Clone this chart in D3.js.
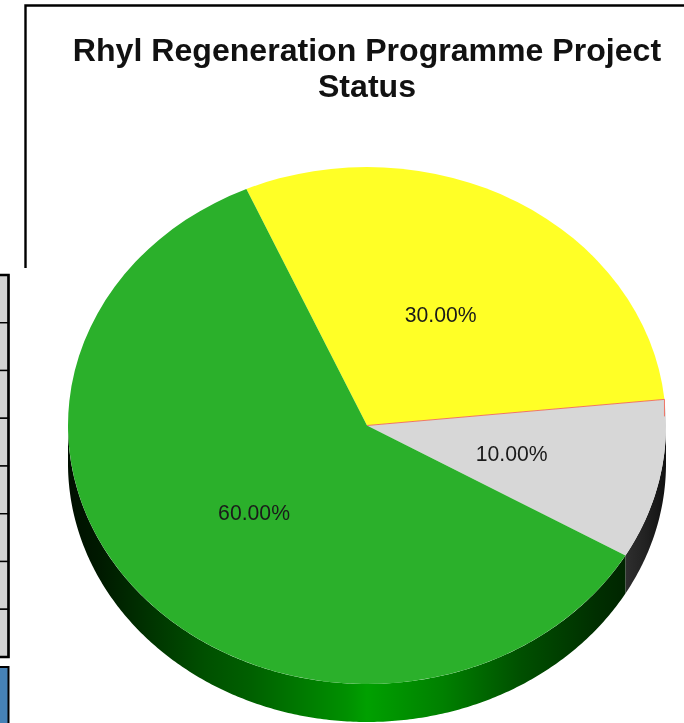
<!DOCTYPE html>
<html>
<head>
<meta charset="utf-8">
<style>
  html, body { margin: 0; padding: 0; background: #fff; overflow: hidden; }
  svg { display: block; filter: blur(0.45px); }
</style>
</head>
<body>
<svg></svg>
<script src="https://cdn.jsdelivr.net/npm/d3@7"></script>
<script>
const width = 684;
const height = 723;

// no legend in the picture, slices are only known by their colour
const sliceNames = ['yellow', 'red', 'grey', 'green'];
const sliceValues = [30, 0, 10, 60];
const titleLines = ['Rhyl Regeneration Programme Project', 'Status'];

const sliceColors = { yellow: '#ffff26', red: '#f06a5a', grey: '#d7d7d7', green: '#2bb02b' };

const cx = 367;
const cy = 425.5;
const rx = 299;
const ry = 258.5;
const depth = 38;

const svg = d3.select('svg')
  .attr('width', width)
  .attr('height', height);

const defs = svg.append('defs');

function sideGradient(id, stops) {
  const grad = defs.append('linearGradient')
    .attr('id', id)
    .attr('gradientUnits', 'userSpaceOnUse')
    .attr('x1', 0).attr('x2', width)
    .attr('y1', 0).attr('y2', 0);
  grad.selectAll('stop')
    .data(stops)
    .enter()
    .append('stop')
    .attr('offset', d => d[0] / width)
    .attr('stop-color', d => d[1]);
}

sideGradient('greenSide', [
  [68, '#000f00'], [98, '#001900'], [205, '#005000'], [251, '#006000'],
  [347, '#009000'], [367, '#00a000'], [443, '#008000'], [520, '#005000'],
  [596, '#002f00'], [626, '#002500']
]);
sideGradient('greySide', [[626, '#2e2e2e'], [645, '#222222'], [666, '#111111']]);

// cut-off table at the left edge of the page
const tableRows = d3.range(8);
const rowY = d3.scaleLinear().domain([0, 8]).range([275, 657]);

svg.append('g')
  .selectAll('rect')
  .data(tableRows)
  .enter()
  .append('rect')
  .attr('x', -4)
  .attr('y', d => rowY(d))
  .attr('width', 12.5)
  .attr('height', d => rowY(d + 1) - rowY(d))
  .attr('fill', '#d3d3d3')
  .attr('stroke', '#000')
  .attr('stroke-width', 1.4);

svg.append('path')
  .attr('d', 'M0,275H8.5V657H0')
  .attr('fill', 'none')
  .attr('stroke', '#000')
  .attr('stroke-width', 2.6);

svg.append('rect')
  .attr('x', -4)
  .attr('y', 667)
  .attr('width', 12.5)
  .attr('height', 70)
  .attr('fill', '#4682b6')
  .attr('stroke', '#000')
  .attr('stroke-width', 2);

// chart frame, only top and left show
svg.append('path')
  .attr('d', 'M25.5,268V5.5H684')
  .attr('fill', 'none')
  .attr('stroke', '#000')
  .attr('stroke-width', 2.4);

svg.selectAll('.title')
  .data(titleLines)
  .enter()
  .append('text')
  .attr('class', 'title')
  .attr('x', cx)
  .attr('y', (d, i) => 61 + i * 36)
  .attr('text-anchor', 'middle')
  .attr('font-family', '"Liberation Sans", Arial, sans-serif')
  .attr('font-weight', 'bold')
  .attr('font-size', 32.1)
  .attr('fill', '#111')
  .text(d => d);

const startAngle = -23.8 * Math.PI / 180;

const pie = d3.pie()
  .sort(null)
  .value(d => d)
  .startAngle(startAngle)
  .endAngle(startAngle + 2 * Math.PI);

const slices = pie(sliceValues);

// angle runs clockwise from twelve o'clock, same as d3.arc
const edgeX = a => cx + rx * Math.sin(a);
const edgeY = a => cy - ry * Math.cos(a);

// rim of one slice: only the part in the lower half of the ellipse shows
function rimPath(d) {
  const a0 = Math.max(d.startAngle, Math.PI / 2);
  const a1 = Math.min(d.endAngle, 3 * Math.PI / 2);
  if (a1 <= a0) return null;
  const steps = d3.range(a0, a1, 0.01).concat([a1]);
  const line = d3.line().x(a => edgeX(a));
  const top = line.y(a => edgeY(a))(steps);
  const bottom = line.y(a => edgeY(a) + depth)(steps.slice().reverse());
  return top + 'L' + bottom.slice(1) + 'Z';
}

const rimFill = { grey: 'url(#greySide)', green: 'url(#greenSide)' };

const pieG = svg.append('g');

pieG.selectAll('.rim')
  .data(slices.filter(d => rimFill[sliceNames[d.index]]))
  .enter()
  .append('path')
  .attr('class', 'rim')
  .attr('d', rimPath)
  .attr('fill', d => rimFill[sliceNames[d.index]]);

const arc = d3.arc()
  .innerRadius(0)
  .outerRadius(rx);

const face = pieG.append('g')
  .attr('transform', `translate(${cx},${cy}) scale(1,${ry / rx})`);

face.selectAll('.slice')
  .data(slices)
  .enter()
  .append('path')
  .attr('class', 'slice')
  .attr('d', arc)
  .attr('fill', d => sliceColors[sliceNames[d.index]]);

// the zero slice only shows as a thin red seam
const zeroSlice = slices[sliceNames.indexOf('red')];
const seamX = edgeX(zeroSlice.startAngle);
const seamY = edgeY(zeroSlice.startAngle);

pieG.append('path')
  .attr('d', `M${cx},${cy}L${seamX},${seamY}v17`)
  .attr('fill', 'none')
  .attr('stroke', sliceColors.red)
  .attr('stroke-width', 0.9);

// labels sit half way out along each slice's middle angle
const labelArc = d3.arc()
  .innerRadius(rx / 2)
  .outerRadius(rx / 2);

const total = d3.sum(sliceValues);

face.selectAll('.label')
  .data(slices.filter(d => d.value > 0))
  .enter()
  .append('text')
  .attr('class', 'label')
  .attr('transform', d => {
    const p = labelArc.centroid(d);
    return `translate(${p[0] - 1.5},${p[1] + 1}) scale(1,${rx / ry})`;
  })
  .attr('text-anchor', 'middle')
  .attr('dy', '0.35em')
  .attr('font-family', '"Liberation Sans", Arial, sans-serif')
  .attr('font-size', 21.2)
  .attr('fill', '#1a1a1a')
  .text(d => (d.value / total * 100).toFixed(2) + '%');
</script>
</body>
</html>
